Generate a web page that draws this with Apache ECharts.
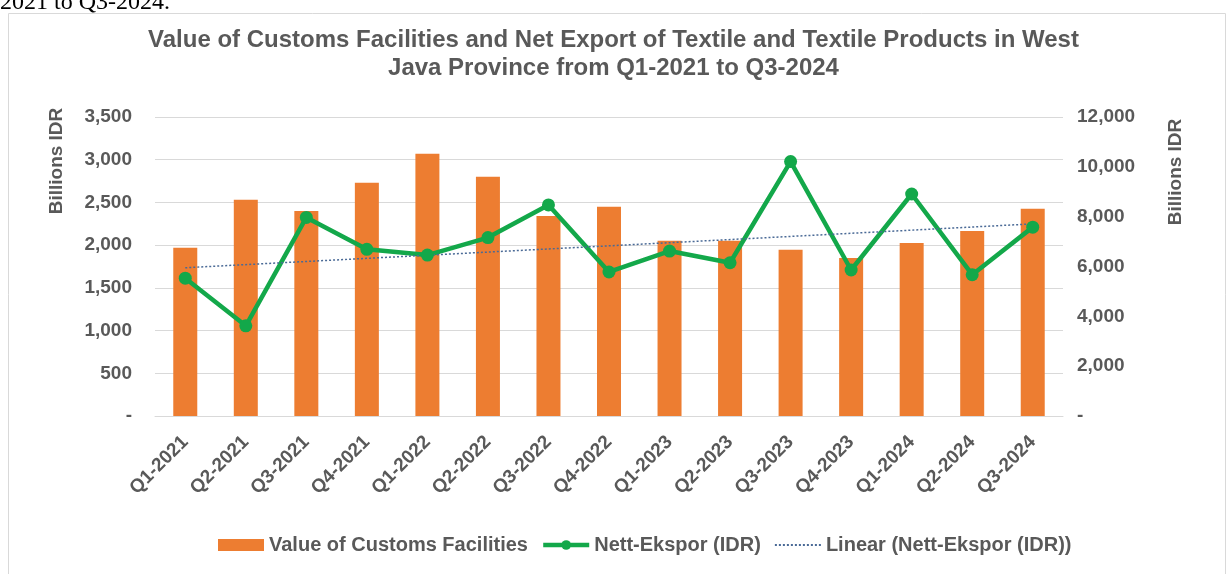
<!DOCTYPE html>
<html>
<head>
<meta charset="UTF-8">
<title>Customs Facilities and Net Export - West Java</title>
<script type="text/javascript" src="https://cdn.jsdelivr.net/npm/echarts@6/dist/echarts.min.js"></script>
<style>
  html, body { margin: 0; padding: 0; background: #fff; }
  #main { width: 1227px; height: 574px; }
</style>
</head>
<body>
<div id="main"></div>
<script type="text/javascript">
// quarters on the x axis
var quarters = ['Q1-2021', 'Q2-2021', 'Q3-2021', 'Q4-2021', 'Q1-2022', 'Q2-2022', 'Q3-2022', 'Q4-2022',
  'Q1-2023', 'Q2-2023', 'Q3-2023', 'Q4-2023', 'Q1-2024', 'Q2-2024', 'Q3-2024'];
// value of customs facilities (billions IDR, left axis)
var customsValue = [1970, 2530, 2400, 2730, 3070, 2800, 2340, 2450, 2050, 2050, 1945, 1850, 2025, 2165, 2425];
// nett ekspor (billions IDR, right axis)
var nettEkspor = [5530, 3620, 7970, 6690, 6460, 7160, 8470, 5780, 6620, 6150, 10210, 5860, 8910, 5670, 7580];
// linear trendline, read at first and last quarter
var trendEnds = [5950, 7710];
var leftTicks = [0, 500, 1000, 1500, 2000, 2500, 3000, 3500];
var rightTicks = [0, 2000, 4000, 6000, 8000, 10000, 12000];

var trendData = quarters.map(function (q, i) {
  if (i === 0) return trendEnds[0];
  if (i === quarters.length - 1) return trendEnds[1];
  return null;
});

function fmt(v) {
  return v === 0 ? '-' : v.toLocaleString('en-US');
}

var font = 'Liberation Sans, Arial, sans-serif';
var grey = '#595959';

var myChart = echarts.init(document.getElementById('main'));
myChart.setOption({
  animation: false,
  textStyle: { fontFamily: font },
  graphic: [
    // tail of the sentence above the chart in the source document
    { type: 'text', left: 0, top: -9, style: { text: '2021 to Q3-2024.', font: '24px "Liberation Serif", serif', fill: '#000' } },
    { type: 'rect', shape: { x: 8.5, y: 13.5, width: 1217, height: 570 }, style: { fill: 'none', stroke: '#d9d9d9', lineWidth: 1 } },
    // axis names
    { type: 'text', x: 57, y: 161, rotation: Math.PI / 2,
      style: { text: 'Billions IDR', align: 'center', verticalAlign: 'middle', font: 'bold 19px ' + font, fill: grey } },
    { type: 'text', x: 1176, y: 172, rotation: Math.PI / 2,
      style: { text: 'Billions IDR', align: 'center', verticalAlign: 'middle', font: 'bold 19px ' + font, fill: grey } }
  ],
  title: {
    text: 'Value of Customs Facilities and Net Export of Textile and Textile Products in West\nJava Province from Q1-2021 to Q3-2024',
    left: 'center',
    top: 21,
    textStyle: { fontFamily: font, fontSize: 24, fontWeight: 'bold', color: grey, lineHeight: 28 }
  },
  legend: {
    bottom: 14,
    left: 213,
    itemGap: 13,
    itemWidth: 46,
    itemHeight: 12,
    textStyle: { fontFamily: font, fontSize: 20, fontWeight: 'bold', color: grey },
    data: [
      { name: 'Value of Customs Facilities', icon: 'rect' },
      { name: 'Nett-Ekspor (IDR)', lineStyle: { width: 4.5 } },
      { name: 'Linear (Nett-Ekspor (IDR))', itemStyle: { opacity: 0 } }
    ]
  },
  grid: { left: 155, right: 164, top: 117, bottom: 158 },
  xAxis: {
    type: 'category',
    data: quarters,
    axisLine: { lineStyle: { color: '#d9d9d9' } },
    axisTick: { show: false },
    axisLabel: { rotate: 45, interval: 0, margin: 23, fontSize: 19, fontWeight: 'bold', color: grey, fontFamily: font }
  },
  yAxis: [
    {
      type: 'value',
      min: leftTicks[0],
      max: leftTicks[leftTicks.length - 1],
      interval: 500,
      axisLine: { show: false },
      axisTick: { show: false },
      splitLine: { lineStyle: { color: '#d9d9d9' } },
      axisLabel: { formatter: fmt, margin: 23, fontSize: 19, fontWeight: 'bold', color: grey, fontFamily: font }
    },
    {
      type: 'value',
      min: rightTicks[0],
      max: rightTicks[rightTicks.length - 1],
      interval: 2000,
      axisLine: { show: false },
      axisTick: { show: false },
      splitLine: { show: false },
      axisLabel: { formatter: fmt, margin: 14, fontSize: 19, fontWeight: 'bold', color: grey, fontFamily: font }
    }
  ],
  series: [
    {
      name: 'Value of Customs Facilities',
      type: 'bar',
      data: customsValue,
      barWidth: 24,
      itemStyle: { color: '#ED7D31' }
    },
    {
      name: 'Nett-Ekspor (IDR)',
      type: 'line',
      yAxisIndex: 1,
      data: nettEkspor,
      symbol: 'circle',
      symbolSize: 13,
      lineStyle: { color: '#13a84a', width: 4.5 },
      itemStyle: { color: '#13a84a' }
    },
    {
      name: 'Linear (Nett-Ekspor (IDR))',
      type: 'line',
      yAxisIndex: 1,
      data: trendData,
      connectNulls: true,
      symbol: 'none',
      lineStyle: { color: '#4a6a96', width: 1.5, type: [2, 2] },
      itemStyle: { color: '#4a6a96' }
    }
  ]
});
</script>
</body>
</html>
